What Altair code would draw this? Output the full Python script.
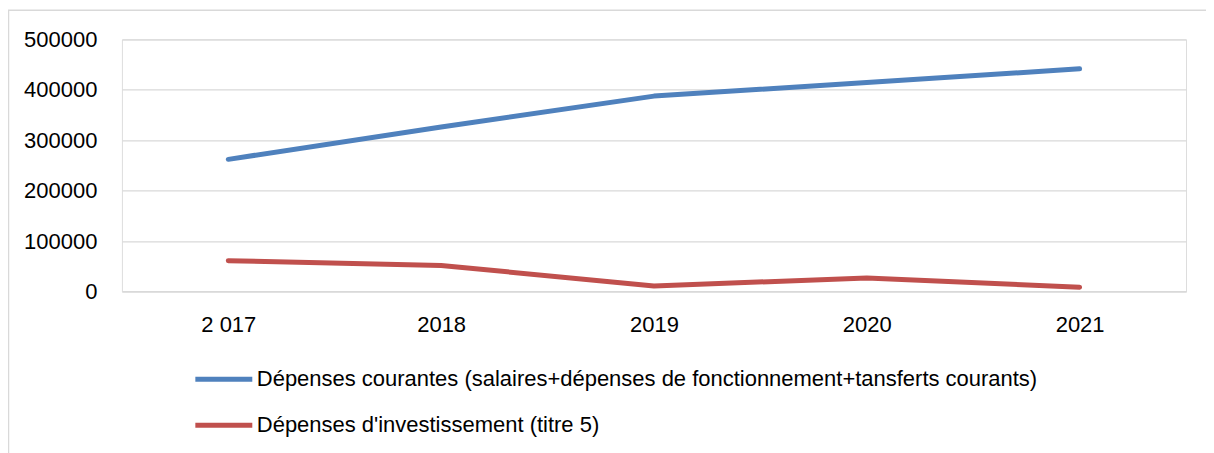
import altair as alt
import pandas as pd

years = ["2 017", "2018", "2019", "2020", "2021"]
courantes = [262300, 326300, 387700, 414800, 441700]
investissement = [61400, 51900, 11300, 27100, 8700]
series_names = [
    "Dépenses courantes (salaires+dépenses de fonctionnement+tansferts courants)",
    "Dépenses d'investissement (titre 5)",
]
colors = ["#4F81BD", "#C0504D"]

rows = []
for i, y in enumerate(years):
    rows.append({"annee": y, "serie": series_names[0], "valeur": courantes[i], "ordre": i})
    rows.append({"annee": y, "serie": series_names[1], "valeur": investissement[i], "ordre": i})
df = pd.DataFrame(rows)

FONT = "Liberation Sans"
FS = 22

lines = alt.Chart(df).mark_line(strokeWidth=5, strokeCap="round", strokeJoin="round").encode(
    x=alt.X("annee:N", sort=years, title=None,
            scale=alt.Scale(type="point", padding=0.5),
            axis=alt.Axis(labelAngle=0, ticks=False, domain=False, grid=False,
                          labelPadding=23, labelFont=FONT, labelFontSize=FS,
                          labelColor="#000000")),
    y=alt.Y("valeur:Q", title=None,
            scale=alt.Scale(domain=[0, 500000], nice=False),
            axis=alt.Axis(values=[0, 100000, 200000, 300000, 400000, 500000],
                          format="d", ticks=False, domain=False,
                          gridColor="#d9d9d9", gridWidth=1.3,
                          labelPadding=25, labelFont=FONT, labelFontSize=FS,
                          labelColor="#000000")),
    color=alt.Color("serie:N", sort=series_names,
                    scale=alt.Scale(domain=series_names, range=colors),
                    legend=alt.Legend(title=None, orient="none", legendX=71, legendY=309,
                                      direction="vertical", symbolType="stroke",
                                      symbolSize=3249, symbolStrokeWidth=5,
                                      labelFont=FONT, labelFontSize=FS, labelLimit=0,
                                      labelColor="#000000", labelOffset=2, rowPadding=4)),
    order="ordre:Q",
)

frame = alt.Chart(pd.DataFrame({"k": [0]})).mark_rect(
    fill=None, stroke="#d9d9d9", strokeWidth=1.5, clip=False
).encode(
    x=alt.value(-113.5), x2=alt.value(1110),
    y=alt.value(-29.3), y2=alt.value(480),
)

chart = alt.layer(frame, lines).properties(
    width=1065, height=252.4,
    padding={"left": 114, "top": 31.3, "right": 20, "bottom": 170},
    autosize=alt.AutoSizeParams(type="none"),
).configure_view(stroke=None).configure(background="white")

chart.save("out.html", embed_options={"renderer": "svg", "actions": False})
